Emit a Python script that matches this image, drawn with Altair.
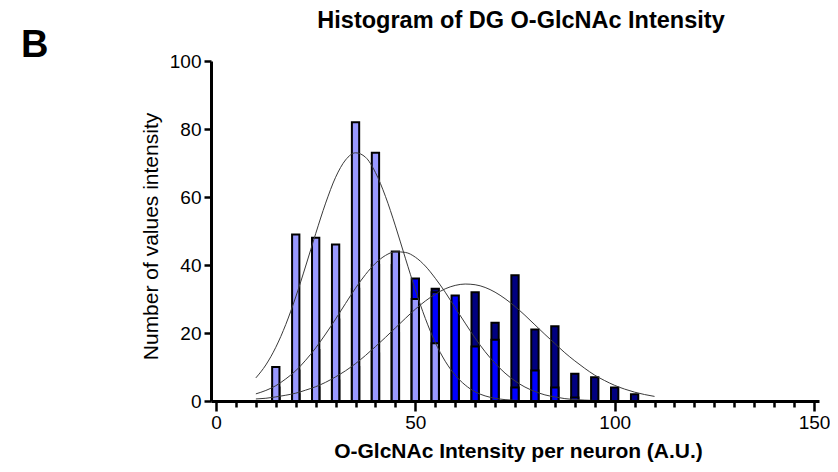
import altair as alt
import pandas as pd

# ---- histogram data (bin centre, counts per series) ----
bins = [15, 20, 25, 30, 35, 40, 45, 50, 55, 60, 65, 70, 75, 80, 85, 90, 95, 100, 105]
lavender_counts = [10, 49, 48, 46, 82, 73, 44, 30, 17, 0, 0, 0, 0, 0, 0, 0, 0, 0, 0]
blue_counts = [4, 9, 15, 24, 33, 40, 40, 36, 32, 31, 16, 18, 4, 9, 4, 1, 0, 0, 0]
navy_counts = [1, 2, 4, 6, 10, 14, 20, 26, 33, 29, 32, 23, 37, 21, 22, 8, 7, 4, 2]

# ---- fitted curves ----
curve_x = [10, 12.5, 15, 17.5, 20, 22.5, 25, 27.5, 30, 32.5,
           35, 37.5, 40, 42.5, 45, 47.5, 50, 52.5, 55, 57.5,
           60, 62.5, 65, 67.5, 70, 72.5, 75, 77.5, 80, 82.5,
           85, 87.5, 90, 92.5, 95, 97.5, 100, 102.5, 105, 107.5, 110]
lavender_fit = [6.8, 10.6, 15.8, 22.5, 30.6, 39.7, 49.2, 58.2, 65.8, 70.9,
                73.0, 71.7, 67.2, 60.2, 51.5, 42.0, 32.7, 24.3, 17.2, 11.7,
                7.6, 4.7, 2.7, 1.5, 0.8, 0.4, 0.2, 0.1, 0.0, 0.0,
                0.0, 0.0, 0.0, 0.0, 0.0, 0.0, 0.0, 0.0, 0.0, 0.0, 0.0]
blue_fit = [2.1, 3.1, 4.5, 6.5, 8.9, 12.0, 15.6, 19.7, 24.1, 28.7,
            33.2, 37.2, 40.5, 42.8, 43.9, 43.7, 42.3, 39.7, 36.1, 32.0,
            27.4, 22.9, 18.5, 14.5, 11.1, 8.2, 5.9, 4.1, 2.8, 1.8,
            1.2, 0.7, 0.4, 0.25, 0.14, 0.07, 0.04, 0.02, 0.01, 0.0, 0.0]
navy_fit = [0.6, 0.8, 1.2, 1.7, 2.3, 3.2, 4.2, 5.5, 7.1, 8.9,
            11.0, 13.4, 16.0, 18.7, 21.5, 24.3, 27.0, 29.4, 31.4, 33.0,
            34.0, 34.4, 34.2, 33.4, 32.0, 30.1, 27.8, 25.2, 22.4, 19.6,
            16.9, 14.2, 11.8, 9.6, 7.6, 6.0, 4.6, 3.5, 2.6, 1.9, 1.35]

x_tick_values = list(range(0, 155, 5))
y_tick_values = [0, 20, 40, 60, 80, 100]

colors = {"navy": "#000080", "blue": "#0000ff", "lavender": "#9999ff"}
FONT = "Liberation Sans"

W, H = 608, 340
x_scale = alt.Scale(domain=[0, 150], nice=False, zero=False)
y_scale = alt.Scale(domain=[0, 100], nice=False)

x_axis = alt.Axis(
    values=x_tick_values,
    labelExpr="datum.value % 50 === 0 ? datum.label : ''",
    tickSize={"condition": {"test": "datum.value % 50 === 0", "value": 10}, "value": 6},
    tickWidth=2.5, domainWidth=3, domainColor="black", tickColor="black",
    labelFont=FONT, labelFontSize=19, labelColor="black", labelPadding=2,
    labelOverlap=False, labelFlush=False, grid=False,
    title="O-GlcNAc Intensity per neuron (A.U.)",
    titleFont=FONT, titleFontSize=21, titleFontWeight="bold", titleColor="black",
    titleX=W / 2 + 3, titleY=56, titleBaseline="alphabetic",
    zindex=1,
)
y_axis = alt.Axis(
    values=y_tick_values,
    tickSize=7, tickWidth=2.5, domainWidth=3, domainColor="black", tickColor="black",
    labelFont=FONT, labelFontSize=19, labelColor="black", labelPadding=3,
    grid=False,
    title="Number of values intensity",
    titleFont=FONT, titleFontSize=21, titleFontWeight="normal", titleColor="black",
    titleX=-60, titleY=H / 2 + 5, titleAngle=-90, titleBaseline="middle",
    zindex=1,
)

bar_frames = []
for name, vals in (("navy", navy_counts), ("blue", blue_counts), ("lavender", lavender_counts)):
    bar_frames.append(pd.DataFrame({"bin": bins, "count": vals, "series": name}))
bars_df = pd.concat(bar_frames, ignore_index=True)

curve_frames = []
for name, vals in (("lavender", lavender_fit), ("blue", blue_fit), ("navy", navy_fit)):
    curve_frames.append(pd.DataFrame({"x": curve_x, "y": vals, "series": name}))
curves_df = pd.concat(curve_frames, ignore_index=True)

layers = []
for name in ("navy", "blue", "lavender"):
    layers.append(
        alt.Chart(bars_df).transform_filter(
            (alt.datum.series == name) & (alt.datum["count"] > 0)
        ).mark_bar(width=7.3, color=colors[name], stroke="black", strokeWidth=2)
        .encode(x=alt.X("bin:Q", scale=x_scale, axis=x_axis),
                y=alt.Y("count:Q", scale=y_scale, axis=y_axis))
    )

for name in ("lavender", "blue", "navy"):
    layers.append(
        alt.Chart(curves_df).transform_filter(alt.datum.series == name)
        .mark_line(color="#3a3a3a", strokeWidth=1, interpolate="monotone")
        .encode(x=alt.X("x:Q", scale=x_scale, axis=x_axis),
                y=alt.Y("y:Q", scale=y_scale, axis=y_axis))
    )

text_df = pd.DataFrame({"t": ["Histogram of DG O-GlcNAc Intensity"]})
title_mark = alt.Chart(text_df).mark_text(
    font=FONT, fontSize=23.5, fontWeight="bold", color="black",
    align="center", baseline="alphabetic"
).encode(text="t:N", x=alt.value(310), y=alt.value(-33))

b_df = pd.DataFrame({"t": ["B"]})
b_mark = alt.Chart(b_df).mark_text(
    font=FONT, fontSize=38, fontWeight="bold", color="black",
    align="left", baseline="alphabetic"
).encode(text="t:N", x=alt.value(-190), y=alt.value(-4))

chart = alt.layer(*layers, title_mark, b_mark).properties(
    width=W, height=H,
    autosize=alt.AutoSizeParams(type="none"),
    padding={"left": 203, "top": 53, "right": 11, "bottom": 63},
).configure_view(stroke=None)

chart.save("out.html", embed_options={"renderer": "svg", "actions": False})
